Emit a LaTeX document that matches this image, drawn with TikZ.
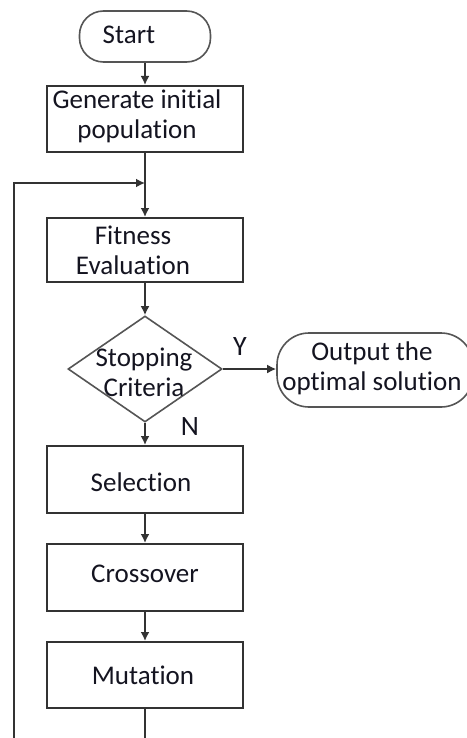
\documentclass[tikz,border=0pt]{standalone}
\usepackage{fontspec}
\setmainfont{Carlito}[Ligatures={NoCommon}]
\usetikzlibrary{arrows.meta,shapes.geometric}
\definecolor{lineC}{HTML}{333333}
\definecolor{termC}{HTML}{555555}
\definecolor{txtC}{HTML}{141420}
\begin{document}
\begin{tikzpicture}[x=0.5pt,y=-0.5pt,
  line/.style={draw=lineC, line width=1pt},
  arr/.style={line, -{Latex[length=4.5pt,width=4.5pt]}},
  procbox/.style={draw=lineC, line width=1pt, minimum width=98pt, inner sep=0pt},
  term/.style={draw=termC, line width=0.8pt, inner sep=0pt},
  decision/.style={diamond, draw=termC, line width=0.8pt, minimum width=77pt, minimum height=53pt, inner sep=0pt},
  txt/.style={font=\fontsize{13.5pt}{15pt}\selectfont, text=txtC, align=center, inner sep=0pt},
  lbl/.style={font=\fontsize{14pt}{15pt}\selectfont, text=txtC, inner sep=0pt}]
\useasboundingbox (0,0) rectangle (466,738);
\fill[white] (0,0) rectangle (466,738);

% shapes
\node[term, rounded corners=12pt, minimum width=65.5pt, minimum height=25.5pt] (start) at (145,36.5) {};
\node[procbox, minimum height=33pt] (gen) at (145,119) {};
\node[procbox, minimum height=32pt] (fit) at (145,250) {};
\node[decision] (dec) at (145,369) {};
\node[term, rounded corners=16pt, minimum width=98pt, minimum height=37pt] (out) at (375,370) {};
\node[procbox, minimum height=33.5pt] (sel) at (145,479.5) {};
\node[procbox, minimum height=33.5pt] (cro) at (145,577.5) {};
\node[procbox, minimum height=33pt] (mut) at (145,675) {};

% texts
\node[txt] (startT) at (129,35) {Start};
\node[txt] (genT) at (137,116) {Generate initial\\population};
\node[txt] (fitT) at (133,250) {Fitness\\Evaluation};
\node[txt] (decT) at (144,372) {Stopping\\Criteria};
\node[txt] (outT) at (372,368) {Output the\\optimal solution};
\node[txt] (selT) at (141,482) {Selection};
\node[txt] (croT) at (145,574) {Crossover};
\node[txt] (mutT) at (143,675) {Mutation};
\node[lbl] (lblY) at (240,347) {Y};
\node[lbl] (lblN) at (190,427) {N};

% connectors
\coordinate (join) at (145,183);
\coordinate (loopB) at (14,738);
\coordinate (mutB) at (145,738);
\draw[arr] (start) -- (gen);
\draw[arr] (gen) -- (fit);
\draw[arr] (loopB) |- (join);
\draw[arr] (fit) -- (dec);
\draw[arr] (dec.east) -- (dec.east -| out.west);
\draw[arr] (dec) -- (sel);
\draw[arr] (sel) -- (cro);
\draw[arr] (cro) -- (mut);
\draw[line] (mut) -- (mutB);
\end{tikzpicture}
\end{document}
